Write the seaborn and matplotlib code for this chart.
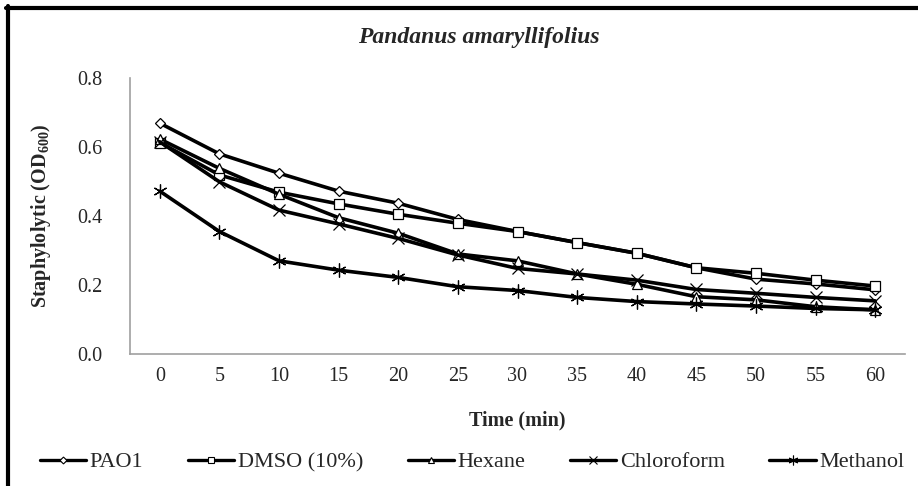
import matplotlib
matplotlib.use("Agg")
import matplotlib.pyplot as plt
import seaborn as sns
import pandas as pd
from matplotlib.lines import Line2D

time = [0, 5, 10, 15, 20, 25, 30, 35, 40, 45, 50, 55, 60]
series_names = ["PAO1", "DMSO (10%)", "Hexane", "Chloroform", "Methanol"]
pao1 = [0.669, 0.580, 0.524, 0.472, 0.437, 0.390, 0.355, 0.323, 0.292, 0.250, 0.217, 0.203, 0.186]
dmso = [0.613, 0.519, 0.469, 0.435, 0.405, 0.379, 0.355, 0.323, 0.292, 0.250, 0.234, 0.214, 0.197]
hexane = [0.623, 0.538, 0.463, 0.395, 0.350, 0.290, 0.270, 0.232, 0.202, 0.166, 0.157, 0.137, 0.128]
chloroform = [0.615, 0.499, 0.417, 0.377, 0.335, 0.287, 0.248, 0.232, 0.214, 0.187, 0.176, 0.164, 0.154]
methanol = [0.472, 0.355, 0.270, 0.243, 0.222, 0.195, 0.184, 0.164, 0.152, 0.145, 0.139, 0.132, 0.128]
yticks = [0.0, 0.2, 0.4, 0.6, 0.8]

values = [pao1, dmso, hexane, chloroform, methanol]
rows = []
for name, vals in zip(series_names, values):
    for t, v in zip(time, vals):
        rows.append({"Time": t, "Value": v, "Series": name})
df = pd.DataFrame(rows)

sns.set_theme(style="white")
plt.rcParams["font.family"] = ["Liberation Serif", "DejaVu Serif"]
plt.rcParams["mathtext.fontset"] = "custom"
plt.rcParams["mathtext.rm"] = "Liberation Serif"
plt.rcParams["mathtext.bf"] = "Liberation Serif:bold"

markers = {"PAO1": "D", "DMSO (10%)": "s", "Hexane": "^", "Chloroform": "x", "Methanol": (6, 2, 0)}
msizes = {"PAO1": 5, "DMSO (10%)": 7, "Hexane": 7, "Chloroform": 8, "Methanol": 10}

fig = plt.figure(figsize=(9.18, 4.86), dpi=100)
ax = fig.add_axes([130/918, 1-354/486, (905-130)/918, (354-78)/486])

for name in series_names:
    sub = df[df["Series"] == name]
    sns.lineplot(data=sub, x="Time", y="Value", ax=ax, color="black", linewidth=2.6,
                 marker=markers[name], markersize=msizes[name], markerfacecolor="white",
                 markeredgecolor="black", markeredgewidth=0.9, legend=False, zorder=3)

ax.set_xlim(-2.5, 62.5)
ax.set_ylim(0, 0.8)
ax.set_xticks(time)
ax.set_xticklabels([str(t) for t in time], fontsize=14.5)
ax.set_yticks(yticks)
ax.set_yticklabels([f"{v:.1f}" for v in yticks], fontsize=14.5)
ax.tick_params(axis="x", length=0, pad=9)
ax.tick_params(axis="y", length=0, pad=20)
for s in ["top", "right"]:
    ax.spines[s].set_visible(False)
for s in ["left", "bottom"]:
    ax.spines[s].set_color("#a0a0a0")
    ax.spines[s].set_linewidth(1.2)
ax.set_xlabel("Time (min)", fontsize=14.5, fontweight="bold", labelpad=18)
ax.set_ylabel(r"Staphylolytic (OD$_{\mathbf{600}}$)", fontsize=14.5, fontweight="bold", labelpad=17)
fig.text(479/918, 1-38/486, "Pandanus amaryllifolius", ha="center", va="center",
         fontsize=17, fontweight="bold", fontstyle="italic")

handles = [Line2D([0], [0], color="black", linewidth=2.4, marker=markers[n],
                  markersize=msizes[n] * 0.7, markerfacecolor="white", markeredgecolor="black",
                  markeredgewidth=0.8) for n in series_names]
fig.legend(handles, series_names, loc="center", bbox_to_anchor=(472/918, 1-462/486), ncol=5,
           frameon=False, fontsize=16, handlelength=2.1, handletextpad=0.15, columnspacing=2.0)

# figure border lines (left and top)
fig.add_artist(Line2D([8/918, 8/918], [0, 1-6/486], color="black", linewidth=3, transform=fig.transFigure))
fig.add_artist(Line2D([6/918, 1], [1-8/486, 1-8/486], color="black", linewidth=3, transform=fig.transFigure))

fig.savefig("out.png", dpi=100)
